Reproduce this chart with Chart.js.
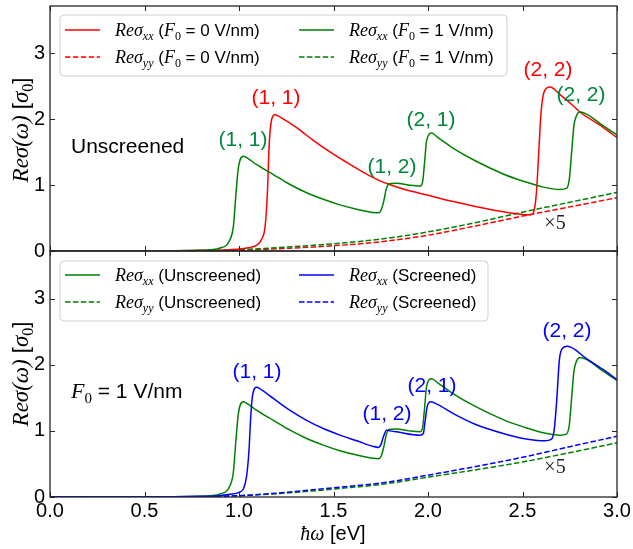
<!DOCTYPE html>
<html>
<head>
<meta charset="utf-8">
<script src="https://cdn.jsdelivr.net/npm/chart.js@4.4.1/dist/chart.umd.min.js"></script>
<style>
  html, body { margin: 0; padding: 0; background: #fff; }
  #wrap { position: relative; width: 633px; height: 549px; }
  #wrap canvas { position: absolute; left: 0; top: 0; }
</style>
</head>
<body>
<div id="wrap">
  <canvas id="one" width="633" height="549"></canvas>
  <canvas id="two" width="633" height="549"></canvas>
</div>
<script>
// axis ticks
var eTicks = [0, 0.5, 1.0, 1.5, 2.0, 2.5, 3.0];
var sTicks = [0, 1, 2, 3];

// top panel: unscreened, F0 = 0 (red) and F0 = 1 (green)
var redXXE = [0, 0.5, 0.8, 0.95, 1.05, 1.094, 1.12, 1.138, 1.15, 1.16, 1.173, 1.19, 1.22, 1.305, 1.393, 1.481, 1.57, 1.658, 1.7, 1.746, 1.8, 1.869, 2.0, 2.134, 2.25, 2.398, 2.5, 2.545, 2.562, 2.574, 2.586, 2.598, 2.615, 2.646, 2.7, 2.751, 2.804, 2.928, 3.0];
var redXX  = [0, 0, 0.01, 0.02, 0.05, 0.09, 0.18, 0.37, 0.87, 1.63, 2.0, 2.07, 2.03, 1.875, 1.68, 1.505, 1.345, 1.195, 1.13, 1.065, 1.005, 0.94, 0.845, 0.75, 0.675, 0.595, 0.555, 0.55, 0.62, 0.9, 1.5, 2.1, 2.42, 2.49, 2.37, 2.25, 2.11, 1.875, 1.72];

var greenXXE = [0, 0.5, 0.8, 0.9, 0.952, 0.97, 0.984, 0.997, 1.023, 1.05, 1.094, 1.182, 1.27, 1.358, 1.446, 1.534, 1.623, 1.71, 1.74, 1.755, 1.767, 1.779, 1.795, 1.834, 1.9, 1.958, 1.972, 1.982, 1.993, 2.02, 2.05, 2.134, 2.25, 2.398, 2.504, 2.61, 2.698, 2.734, 2.748, 2.76, 2.772, 2.785, 2.804, 2.928, 3.0];
var greenXX  = [0, 0, 0.01, 0.045, 0.17, 0.37, 0.87, 1.27, 1.44, 1.4, 1.31, 1.16, 1.01, 0.885, 0.785, 0.7, 0.635, 0.585, 0.58, 0.64, 0.77, 0.94, 1.02, 1.03, 1.0, 0.985, 1.06, 1.35, 1.68, 1.79, 1.73, 1.56, 1.37, 1.17, 1.06, 0.97, 0.935, 0.955, 1.1, 1.5, 1.9, 2.05, 2.11, 1.9, 1.76];

var yyE = [0, 0.5, 0.8, 1.0, 1.25, 1.5, 1.75, 2.0, 2.25, 2.5, 2.75, 3.0];
var redYY      = [0, 0, 0.003, 0.01, 0.04, 0.08, 0.14, 0.24, 0.38, 0.53, 0.67, 0.81];
var greenYYTop = [0, 0, 0.004, 0.02, 0.06, 0.11, 0.18, 0.29, 0.43, 0.59, 0.74, 0.89];

// bottom panel: F0 = 1, unscreened (green) vs screened (blue)
var blueXXE = [0, 0.5, 0.8, 0.9, 0.95, 1.0, 1.023, 1.04, 1.053, 1.062, 1.072, 1.094, 1.12, 1.182, 1.27, 1.358, 1.446, 1.534, 1.623, 1.71, 1.737, 1.752, 1.764, 1.781, 1.8, 1.834, 1.958, 1.975, 1.985, 1.995, 2.015, 2.05, 2.134, 2.249, 2.398, 2.504, 2.619, 2.652, 2.667, 2.681, 2.695, 2.712, 2.737, 2.84, 2.928, 3.0];
var blueXX  = [0, 0, 0.01, 0.02, 0.04, 0.07, 0.12, 0.31, 0.71, 1.21, 1.54, 1.66, 1.62, 1.49, 1.31, 1.16, 1.035, 0.935, 0.85, 0.765, 0.75, 0.8, 0.91, 1.01, 1.0, 0.985, 0.935, 0.96, 1.15, 1.36, 1.44, 1.4, 1.26, 1.1, 0.96, 0.885, 0.85, 0.87, 1.0, 1.46, 2.07, 2.25, 2.28, 2.09, 1.925, 1.775];
var greenYYBot = [0, 0, 0.004, 0.02, 0.06, 0.12, 0.19, 0.3, 0.41, 0.53, 0.67, 0.82];
var blueYY     = [0, 0, 0.005, 0.02, 0.07, 0.14, 0.21, 0.33, 0.46, 0.6, 0.76, 0.92];

var SANS = '"Liberation Sans", Arial, sans-serif';
var SERIF = '"Liberation Serif", "DejaVu Serif", serif';
var RED = '#ff0000', GREEN = '#008000', BLUE = '#0000ff';
var GREEN_TXT = '#00873c';
var Y_MAX = 3.72;

function pts(xs, ys) {
  return xs.map(function(x, i) { return { x: x, y: ys[i] }; });
}

function line(data, color, dashed, order) {
  return {
    data: data,
    borderColor: color,
    borderWidth: 1.5,
    borderDash: dashed ? [5.5, 2.4] : [],
    pointRadius: 0,
    fill: false,
    cubicInterpolationMode: 'monotone',
    order: order
  };
}

// draw text made of several pieces (math italic, subscripts, plain)
function rich(ctx, parts, x, y, align) {
  var w = 0;
  parts.forEach(function(p) { ctx.font = p[1]; w += ctx.measureText(p[0]).width; });
  var cx = align === 'center' ? x - w / 2 : x;
  parts.forEach(function(p) {
    ctx.font = p[1];
    ctx.fillText(p[0], cx, y + (p[2] || 0));
    cx += ctx.measureText(p[0]).width;
  });
}

function roundBox(ctx, x, y, w, h, r) {
  ctx.beginPath();
  ctx.moveTo(x + r, y);
  ctx.arcTo(x + w, y, x + w, y + h, r);
  ctx.arcTo(x + w, y + h, x, y + h, r);
  ctx.arcTo(x, y + h, x, y, r);
  ctx.arcTo(x, y, x + w, y, r);
  ctx.closePath();
  ctx.fillStyle = 'rgba(255,255,255,0.85)';
  ctx.fill();
  ctx.strokeStyle = '#d0d0d0';
  ctx.lineWidth = 1;
  ctx.stroke();
}

function sig(sub, rest) {
  return [['Reσ', 'italic 18px ' + SERIF], [sub, 'italic 12px ' + SERIF, 4]].concat(rest);
}
function f0(val) {
  return [[' (', '17px ' + SANS], ['F', 'italic 18px ' + SERIF], ['0', '12px ' + SERIF, 4], [' = ' + val + ' V/nm)', '17px ' + SANS]];
}

function legend(ctx, box, rows) {
  roundBox(ctx, box[0], box[1], box[2], box[3], 4);
  rows.forEach(function(r) {
    ctx.save();
    ctx.strokeStyle = r.color;
    ctx.lineWidth = 1.5;
    ctx.setLineDash(r.dashed ? [5.5, 2.4] : []);
    ctx.beginPath();
    ctx.moveTo(r.x, r.y);
    ctx.lineTo(r.x + 35, r.y);
    ctx.stroke();
    ctx.restore();
    ctx.fillStyle = '#000';
    rich(ctx, r.parts, r.x + 50, r.y + 6, 'left');
  });
}

function yTitle(ctx, cy) {
  ctx.save();
  ctx.translate(28, cy);
  ctx.rotate(-Math.PI / 2);
  ctx.fillStyle = '#000';
  rich(ctx, [['Reσ(ω)', 'italic 23px ' + SERIF], [' [', '22px ' + SANS], ['σ', 'italic 23px ' + SERIF], ['0', '16px ' + SERIF, 5], [']', '22px ' + SANS]], 0, 0, 'center');
  ctx.restore();
}

function labels(ctx, list, font) {
  ctx.save();
  ctx.font = font;
  ctx.textAlign = 'center';
  ctx.textBaseline = 'middle';
  list.forEach(function(l) { ctx.fillStyle = l[3]; ctx.fillText(l[0], l[1], l[2]); });
  ctx.restore();
}

// frame + inward ticks on all four sides
var framePlugin = {
  id: 'frame',
  afterDatasetsDraw: function(chart) {
    var ctx = chart.ctx, a = chart.chartArea, x = chart.scales.x, y = chart.scales.y;
    ctx.save();
    ctx.strokeStyle = '#262626';
    ctx.lineWidth = 1.3;
    ctx.strokeRect(a.left, a.top, a.right - a.left, a.bottom - a.top);
    ctx.beginPath();
    eTicks.forEach(function(v) {
      var px = Math.round(x.getPixelForValue(v)) + 0.5;
      ctx.moveTo(px, a.bottom); ctx.lineTo(px, a.bottom - 5);
      ctx.moveTo(px, a.top); ctx.lineTo(px, a.top + 5);
    });
    sTicks.forEach(function(v) {
      var py = Math.round(y.getPixelForValue(v)) + 0.5;
      ctx.moveTo(a.left, py); ctx.lineTo(a.left + 5, py);
      ctx.moveTo(a.right, py); ctx.lineTo(a.right - 5, py);
    });
    ctx.lineWidth = 1;
    ctx.stroke();
    ctx.restore();
  }
};

function options(showX, pad) {
  return {
    responsive: false,
    animation: false,
    devicePixelRatio: 1,
    layout: { padding: pad },
    plugins: { legend: { display: false }, tooltip: { enabled: false } },
    scales: {
      x: {
        type: 'linear', min: 0, max: 3,
        display: showX,
        grid: { display: false, drawTicks: false },
        border: { display: false },
        ticks: { font: { size: 20, family: SANS }, color: '#000', padding: 2, callback: function(v) { return v.toFixed(1); } },
        afterBuildTicks: function(s) { s.ticks = eTicks.map(function(v) { return { value: v }; }); },
        afterFit: function(s) { s.height = showX ? 52 : 0; s.paddingLeft = 0; s.paddingRight = 0; }
      },
      y: {
        type: 'linear', min: 0, max: Y_MAX,
        grid: { display: false, drawTicks: false },
        border: { display: false },
        ticks: { font: { size: 20, family: SANS }, color: '#000', padding: 5, callback: function(v) { return String(v); } },
        afterBuildTicks: function(s) { s.ticks = sTicks.map(function(v) { return { value: v }; }); },
        afterFit: function(s) { s.width = 50; s.paddingTop = 0; s.paddingBottom = 0; }
      }
    }
  };
}

var topPlugin = {
  id: 'topText',
  afterDraw: function(chart) {
    var ctx = chart.ctx;
    legend(ctx, [60, 15, 447, 61], [
      { x: 65, y: 30, color: RED, dashed: false, parts: sig('xx', f0('0')) },
      { x: 65, y: 57, color: RED, dashed: true, parts: sig('yy', f0('0')) },
      { x: 299, y: 30, color: GREEN, dashed: false, parts: sig('xx', f0('1')) },
      { x: 299, y: 57, color: GREEN, dashed: true, parts: sig('yy', f0('1')) }
    ]);
    labels(ctx, [
      ['(1, 1)', 276, 98, RED], ['(1, 1)', 243, 140, GREEN_TXT], ['(1, 2)', 392, 167, GREEN_TXT],
      ['(2, 1)', 431, 120, GREEN_TXT], ['(2, 2)', 548, 70, RED], ['(2, 2)', 581, 95, GREEN_TXT]
    ], '21px ' + SANS);
    ctx.fillStyle = '#000';
    ctx.font = '21px ' + SANS;
    ctx.fillText('Unscreened', 71, 153);
    labels(ctx, [['×5', 555, 224, '#222']], '20px ' + SERIF);
    yTitle(ctx, 130);
  }
};

var bottomPlugin = {
  id: 'bottomText',
  afterDraw: function(chart) {
    var ctx = chart.ctx;
    legend(ctx, [60, 261, 428, 60], [
      { x: 65, y: 275, color: GREEN, dashed: false, parts: sig('xx', [[' (Unscreened)', '17px ' + SANS]]) },
      { x: 65, y: 302, color: GREEN, dashed: true, parts: sig('yy', [[' (Unscreened)', '17px ' + SANS]]) },
      { x: 299, y: 275, color: BLUE, dashed: false, parts: sig('xx', [[' (Screened)', '17px ' + SANS]]) },
      { x: 299, y: 302, color: BLUE, dashed: true, parts: sig('yy', [[' (Screened)', '17px ' + SANS]]) }
    ]);
    labels(ctx, [
      ['(1, 1)', 257, 372, BLUE], ['(1, 2)', 387, 414, BLUE],
      ['(2, 1)', 432, 386, BLUE], ['(2, 2)', 567, 331, BLUE]
    ], '21px ' + SANS);
    ctx.fillStyle = '#000';
    rich(ctx, [['F', 'italic 22px ' + SERIF], ['0', '15px ' + SERIF, 5], [' = 1 V/nm', '21px ' + SANS]], 71, 398, 'left');
    labels(ctx, [['×5', 555, 468, '#222']], '20px ' + SERIF);
    yTitle(ctx, 374);
    ctx.fillStyle = '#000';
    rich(ctx, [['ħω', 'italic 20px ' + SERIF], [' [eV]', '20px ' + SANS]], 333, 540, 'center');
  }
};

var ctxOne = document.getElementById('one').getContext('2d');
var chartOne = new Chart(ctxOne, {
  type: 'line',
  data: {
    datasets: [
      line(pts(redXXE, redXX), RED, false, 2),
      line(pts(yyE, redYY), RED, true, 4),
      line(pts(greenXXE, greenXX), GREEN, false, 1),
      line(pts(yyE, greenYYTop), GREEN, true, 3)
    ]
  },
  options: options(false, { top: 6, right: 16, bottom: 298, left: 0 }),
  plugins: [framePlugin, topPlugin]
});

var ctxTwo = document.getElementById('two').getContext('2d');
var chartTwo = new Chart(ctxTwo, {
  type: 'line',
  data: {
    datasets: [
      line(pts(greenXXE, greenXX), GREEN, false, 2),
      line(pts(yyE, greenYYBot), GREEN, true, 4),
      line(pts(blueXXE, blueXX), BLUE, false, 1),
      line(pts(yyE, blueYY), BLUE, true, 3)
    ]
  },
  options: options(true, { top: 251, right: 16, bottom: 0, left: 0 }),
  plugins: [framePlugin, bottomPlugin]
});
</script>
</body>
</html>
